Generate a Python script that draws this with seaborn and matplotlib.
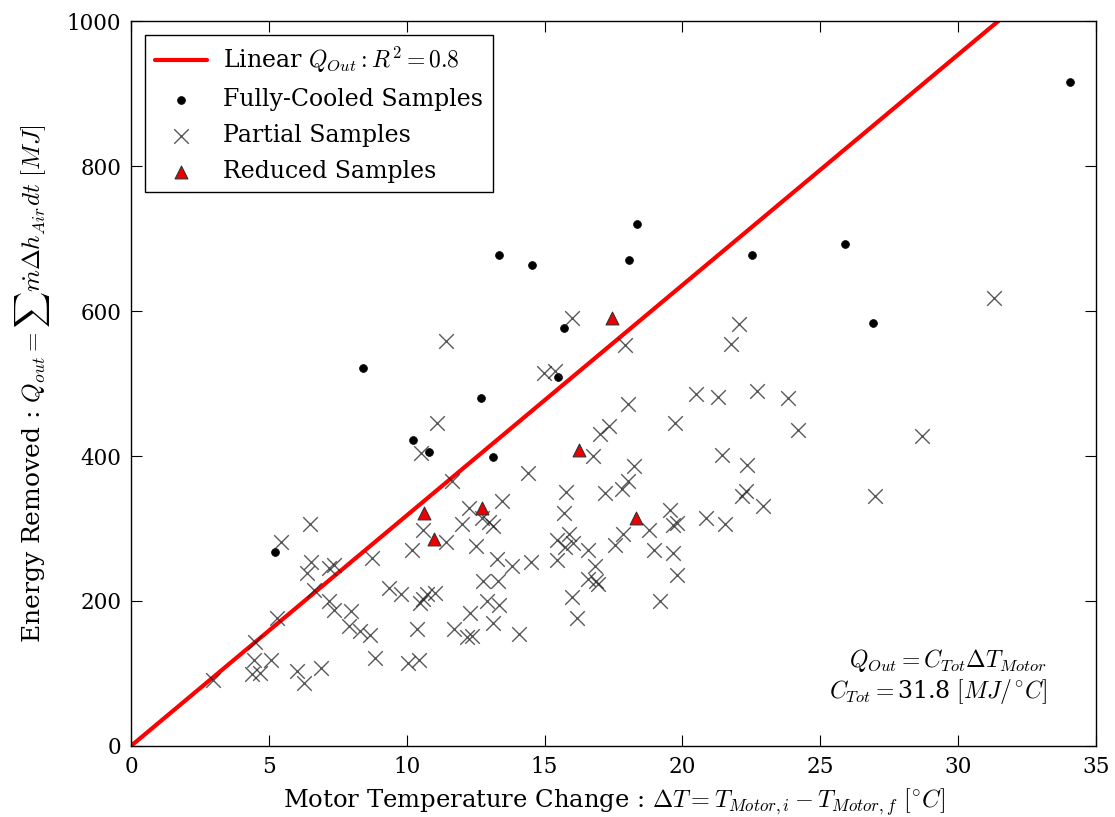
import numpy as np
import pandas as pd
import matplotlib
matplotlib.use("Agg")
import matplotlib.pyplot as plt
import seaborn as sns

# ---------------- data ----------------
full_x = [5.22, 8.43, 10.22, 10.79, 12.68, 13.14, 13.36, 14.56, 15.5, 15.7,
          18.07, 18.34, 22.54, 25.9, 26.92, 34.06]
full_y = [268, 521, 422, 405, 480, 398, 677, 663, 509, 577,
          671, 720, 677, 693, 584, 916]

red_x = [10.64, 10.99, 12.73, 16.25, 17.46, 18.3]
red_y = [322, 286, 329, 409, 591, 315]

part_x = [11.41, 14.99, 11.09, 10.51, 14.4, 11.63, 5.44, 6.49, 13.47, 12.25,
          12.0, 12.72, 13.0, 13.12, 10.58, 11.43, 10.2, 12.51, 8.75, 13.26,
          13.83, 14.51, 6.52, 6.37, 7.19, 7.38, 6.65, 7.18, 7.38, 7.98,
          5.28, 9.37, 9.78, 10.72, 11.03, 10.48, 10.6, 12.76, 13.3, 12.92,
          13.35, 12.3, 13.14, 7.92, 8.31, 8.67, 4.5, 10.36, 11.72, 12.2,
          12.36, 14.08, 4.46, 5.07, 4.38, 4.68, 6.01, 6.89, 6.27, 8.85,
          10.06, 10.46, 2.96,
          15.98, 17.92, 22.06, 21.75, 15.38, 20.49, 21.28, 22.7, 23.84, 18.01,
          19.74, 24.2, 17.35, 17.01, 16.77, 21.42, 22.33, 18.24, 18.01, 17.8,
          17.19, 15.78, 22.31, 22.15, 22.91, 26.99, 15.71, 19.55, 19.67, 19.8,
          20.85, 21.55, 18.8, 17.86, 17.56, 15.9, 16.04, 15.44, 15.74, 16.59,
          15.44, 18.97, 19.65, 16.83, 16.57, 16.95, 16.87, 19.79, 15.98, 16.19,
          19.19, 31.3, 28.68]
part_y = [559, 515, 446, 404, 376, 366, 282, 306, 338, 328,
          306, 314, 309, 303, 298, 282, 270, 276, 259, 258,
          248, 254, 254, 238, 245, 250, 215, 200, 187, 186,
          176, 218, 210, 209, 211, 197, 203, 227, 228, 200,
          195, 184, 170, 165, 159, 153, 144, 162, 162, 150,
          151, 154, 119, 119, 99, 101, 104, 107, 87, 122,
          114, 119, 91,
          591, 553, 582, 555, 518, 485, 481, 490, 480, 472,
          446, 436, 441, 430, 400, 401, 388, 386, 366, 354,
          349, 351, 352, 345, 331, 345, 322, 326, 305, 307,
          315, 306, 298, 293, 277, 292, 280, 284, 275, 271,
          257, 270, 266, 248, 230, 224, 227, 236, 205, 176,
          200, 618, 428]

C_TOT = 31.8
fit_x = [0.0, 35.0]

legend_labels = [r"Linear $Q_{Out}:R^2=0.8$", "Fully-Cooled Samples",
                 "Partial Samples", "Reduced Samples"]
xlabel = r"Motor Temperature Change : $\Delta T = T_{Motor,i} - T_{Motor,f}$ $[^{\circ}C]$"
ylabel = r"Energy Removed : $Q_{out} = \sum \dot{m}\Delta h_{Air}dt$ $[MJ]$"
note1 = r"$Q_{Out} = C_{Tot}\Delta T_{Motor}$"
note2 = r"$C_{Tot} = $31.8 $[MJ/^{\circ}C]$"

# ---------------- style ----------------
sns.set_style("ticks")
plt.rcParams.update({
    "font.family": ["DejaVu Serif"],
    "mathtext.fontset": "cm",
    "font.size": 15,
    "axes.linewidth": 1.0,
    "xtick.direction": "in",
    "ytick.direction": "in",
    "xtick.top": True,
    "ytick.right": True,
    "xtick.major.size": 8,
    "ytick.major.size": 8,
    "xtick.labelsize": 15.5,
    "ytick.labelsize": 15.5,
    "axes.edgecolor": "black",
    "text.color": "black",
    "axes.labelcolor": "black",
    "xtick.color": "black",
    "ytick.color": "black",
})

fig = plt.figure(figsize=(11.15, 8.17), dpi=100)
ax = fig.add_axes([0.1175, 0.087, 0.8655, 0.887])

fit_df = pd.DataFrame({"x": fit_x, "y": [C_TOT * v for v in fit_x]})
full_df = pd.DataFrame({"x": full_x, "y": full_y})
part_df = pd.DataFrame({"x": part_x, "y": part_y})
red_df = pd.DataFrame({"x": red_x, "y": red_y})

sns.lineplot(data=fit_df, x="x", y="y", ax=ax, color="#ff0000", linewidth=3,
             label=legend_labels[0], zorder=2)
sns.scatterplot(data=full_df, x="x", y="y", ax=ax, color="black", marker="o",
                s=32, edgecolor="black", linewidth=0.5, label=legend_labels[1], zorder=3)
sns.scatterplot(data=part_df, x="x", y="y", ax=ax, color="#222222", marker="x",
                s=110, linewidth=1.0, alpha=0.75, label=legend_labels[2], zorder=3)
sns.scatterplot(data=red_df, x="x", y="y", ax=ax, color="#ee0000", marker="^",
                s=85, edgecolor="#333333", linewidth=0.8, label=legend_labels[3], zorder=4)

ax.set_xlim(0, 35)
ax.set_ylim(0, 1000)
ax.set_xticks(np.arange(0, 36, 5))
ax.set_yticks(np.arange(0, 1001, 200))
ax.set_xlabel(xlabel, fontsize=17.5, labelpad=6)
ax.set_ylabel(ylabel, fontsize=18, labelpad=11)
ax.tick_params(pad=7)
for s in ax.spines.values():
    s.set_visible(True)

leg = ax.legend(loc="upper left", fontsize=17, frameon=True, fancybox=False,
                edgecolor="black", framealpha=1, handlelength=2.2,
                handletextpad=0.7, labelspacing=0.55, borderpad=0.4,
                borderaxespad=0.6)
leg.get_frame().set_linewidth(1.0)

ax.text(33.2, 118, note1, ha="right", va="center", fontsize=17)
ax.text(33.2, 75, note2, ha="right", va="center", fontsize=17)

fig.savefig("out.png", dpi=100)
